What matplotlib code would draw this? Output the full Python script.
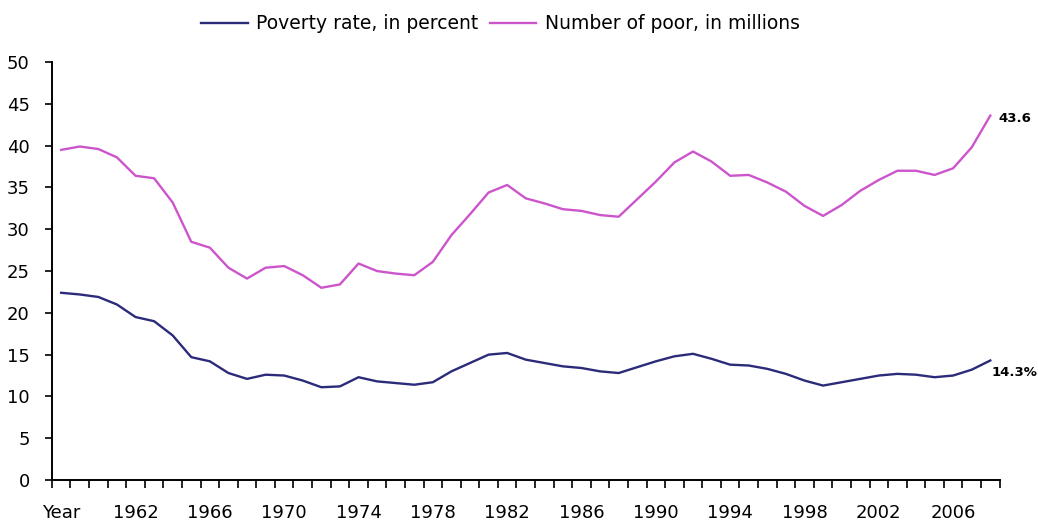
import matplotlib
matplotlib.use("Agg")
import matplotlib.pyplot as plt
import numpy as np

years = list(range(1959, 2010))
poverty_rate = [22.4, 22.2, 21.9, 21.0, 19.5, 19.0, 17.3, 14.7, 14.2, 12.8,
                12.1, 12.6, 12.5, 11.9, 11.1, 11.2, 12.3, 11.8, 11.6, 11.4,
                11.7, 13.0, 14.0, 15.0, 15.2, 14.4, 14.0, 13.6, 13.4, 13.0,
                12.8, 13.5, 14.2, 14.8, 15.1, 14.5, 13.8, 13.7, 13.3, 12.7,
                11.9, 11.3, 11.7, 12.1, 12.5, 12.7, 12.6, 12.3, 12.5, 13.2,
                14.3]
number_poor = [39.5, 39.9, 39.6, 38.6, 36.4, 36.1, 33.2, 28.5, 27.8, 25.4,
               24.1, 25.4, 25.6, 24.5, 23.0, 23.4, 25.9, 25.0, 24.7, 24.5,
               26.1, 29.3, 31.8, 34.4, 35.3, 33.7, 33.1, 32.4, 32.2, 31.7,
               31.5, 33.6, 35.7, 38.0, 39.3, 38.1, 36.4, 36.5, 35.6, 34.5,
               32.8, 31.6, 32.9, 34.6, 35.9, 37.0, 37.0, 36.5, 37.3, 39.8,
               43.6]
tick_labels = ["Year", "1962", "1966", "1970", "1974", "1978", "1982", "1986",
               "1990", "1994", "1998", "2002", "2006"]
series_names = ["Poverty rate, in percent", "Number of poor, in millions"]
end_labels = ["14.3%", "43.6"]

plt.rcParams['font.family'] = ['DejaVu Sans']

fig = plt.figure(figsize=(10.38, 5.29), dpi=100)
ax = fig.add_axes([0.050, 0.0926, 0.913, 0.790])

x = np.arange(len(years))
navy = '#2C2B7A'
pink = '#CC55CC'
l1, = ax.plot(x, poverty_rate, color=navy, lw=1.7, label=series_names[0])
l2, = ax.plot(x, number_poor, color=pink, lw=1.7, label=series_names[1])

ax.set_xlim(-0.5, len(years) - 0.5)
ax.set_ylim(0, 50)
ax.set_yticks(np.arange(0, 51, 5))
ax.set_xticks(np.arange(-0.5, len(years), 1.0))
ax.set_xticklabels([])
ax.set_xticks(np.arange(0, len(years), 4), minor=True)
ax.set_xticklabels(tick_labels, minor=True)
ax.tick_params(axis='x', which='major', length=6, width=1.2, direction='out')
ax.tick_params(axis='x', which='minor', length=0, pad=17, labelsize=13)
ax.tick_params(axis='y', length=5, width=1.2, direction='out', labelsize=13, pad=11)
for s in ['top', 'right']:
    ax.spines[s].set_visible(False)
for s in ['left', 'bottom']:
    ax.spines[s].set_linewidth(1.4)
    ax.spines[s].set_color('black')

ax.annotate(end_labels[0], (x[-1], poverty_rate[-1]), xytext=(1, -9),
            textcoords='offset points', fontsize=9.5, fontweight='bold', va='center')
ax.annotate(end_labels[1], (x[-1], number_poor[-1]), xytext=(6, -2),
            textcoords='offset points', fontsize=9.5, fontweight='bold', va='center')

fig.legend(handles=[l1, l2], loc='upper center', bbox_to_anchor=(0.482, 1.005),
           ncol=2, frameon=False, fontsize=13.5, handlelength=2.5,
           columnspacing=0.6, handletextpad=0.45)

fig.savefig("out.png", dpi=100)
